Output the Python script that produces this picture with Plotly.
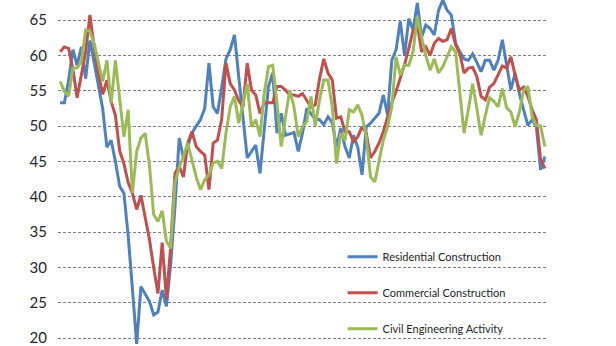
import plotly.graph_objects as go

residential = [53.3, 53.3, 56.5, 60.8, 58.6, 61.2, 56.7, 62.1, 59, 55.5,
               52.5, 47, 48, 45, 41.5, 40.5, 34.5, 27, 19.2, 27.3,
               26.3, 25.2, 23.3, 23.7, 26.8, 24.5, 30.5, 38.5, 48.3, 45.5,
               47.1, 49, 50, 50.9, 52.5, 58.9, 52.7, 51.8, 55.5, 59.5,
               60.8, 62.9, 57, 51, 45.5, 46.4, 47.3, 43.3, 49.9, 55.6,
               57.5, 49, 51.8, 48.7, 48.9, 49.1, 46.4, 49, 52.5, 51.8,
               51, 50.9, 50.2, 51.3, 50.5, 47, 49.7, 47.1, 45.5, 48.7,
               47, 43.1, 49.9, 50.4, 51.1, 51.8, 54.4, 51.6, 59.3, 60.8,
               64.8, 60, 65.2, 63.6, 67.4, 62.6, 64.3, 63.8, 62.9, 66.4,
               67.8, 66.4, 65.7, 61.7, 60.5, 59.5, 59.3, 60.2, 59, 57.7,
               59.3, 59.3, 57.9, 59.3, 62.2, 58.9, 55.1, 57.5, 54.6, 52.3,
               50.1, 50.9, 49.9, 43.8, 45.7]

commercial = [60.5, 61.2, 61, 58, 54, 57.5, 60.5, 65.7, 61.2, 57.5,
              54.5, 56.5, 53.5, 51.5, 46.5, 44.7, 42, 40.5, 38.2, 40.2,
              37, 34, 30, 26.3, 33.5, 25.5, 33, 43.3, 44.3, 42.8,
              47.6, 49.2, 47.1, 46.4, 45.9, 41, 47.6, 48, 51, 58.9,
              56, 55.1, 53.6, 52.7, 58.9, 55.1, 54.4, 51.8, 53.3, 53.3,
              53.3, 55.6, 55.6, 55.1, 54.4, 54.4, 54.2, 54.6, 53.7, 52.7,
              53, 56.7, 59.5, 57.5, 56.5, 51.1, 51.3, 49.2, 49.2, 47.8,
              48.5, 49.9, 49, 45.5, 46.4, 47.6, 49.2, 51.3, 53.3, 54.9,
              56.7, 58.7, 61, 63.5, 64.5, 60.5, 61.2, 60, 61.7, 62.4,
              62, 62.2, 63.8, 61.5, 60.2, 57.5, 58.2, 58.3, 57, 54.2,
              53.7, 55.5, 56, 57.2, 58.5, 58.2, 59.8, 57.2, 55.1, 55.5,
              54.2, 52.3, 50.9, 45.2, 44]

civil = [56.3, 54.9, 54.2, 58.2, 58.2, 59.1, 63.6, 63.4, 61.7, 58.9,
         56.3, 59.3, 53.2, 59.3, 54, 48.5, 52.3, 40.5, 46.4, 48.3,
         49, 44.5, 37.5, 36.5, 38, 33.7, 32.7, 42, 44.2, 45.7,
         47.6, 45.2, 42.8, 41, 42.4, 43.1, 44.8, 45, 44, 49,
         52.7, 54.2, 50.4, 53.2, 56, 49.9, 50.9, 48.5, 54.6, 58.4,
         58.6, 53.2, 47.1, 51.3, 55.1, 52.7, 48.5, 49.9, 50.6, 54.2,
         50, 53.7, 56.5, 56.5, 52.7, 44.7, 49, 48, 52.3, 52,
         53, 51.5, 48.5, 42.8, 42.1, 45, 48, 49.9, 52.7, 59.8,
         57.2, 58.6, 58.6, 60.5, 65.5, 62.6, 60, 57.9, 59.5, 57.5,
         58.4, 59.8, 61.2, 60.5, 55, 49, 52.3, 56, 52.5, 48.7,
         51.5, 54, 53.5, 52.7, 55.3, 52.6, 52, 49.9, 52, 55.1,
         55.6, 51.3, 50.1, 50, 47.1]

periods = list(range(len(residential)))
y_ticks = [20, 25, 30, 35, 40, 45, 50, 55, 60, 65]
names = ["Residential Construction", "Commercial Construction", "Civil Engineering Activity"]
colors = ["#4F81BD", "#C0504D", "#9BBB59"]

fig = go.Figure()
for i, (name, vals, col) in enumerate(zip(names, [residential, commercial, civil], colors)):
    fig.add_trace(go.Scatter(x=periods, y=vals, mode="lines", name=name,
                             legendgroup=f"g{i}",
                             line=dict(color=col, width=3)))

fig.update_layout(
    template="none",
    width=616, height=346,
    margin=dict(l=58, r=69, t=0, b=0, pad=0),
    paper_bgcolor="white", plot_bgcolor="white",
    font=dict(family="Lato", color="#262626"),
    showlegend=True,
    legend=dict(x=0.582, y=0.30, xanchor="left", yanchor="top",
                bgcolor="rgba(0,0,0,0)", font=dict(size=11, color="#262626"),
                tracegroupgap=17, itemwidth=30),
)
fig.update_xaxes(range=[-0.5, len(residential) - 0.5], showgrid=False,
                 showticklabels=False, zeroline=False, showline=False,
                 ticks="", automargin=False)
fig.update_yaxes(range=[18.89, 67.83], tickmode="array", tickvals=y_ticks,
                 showgrid=True, gridcolor="#7f7f7f", griddash="3px,2px",
                 gridwidth=1, zeroline=False, showline=False, ticks="",
                 automargin=False, ticklabeloverflow="allow",
                 tickfont=dict(size=15, color="#262626"), ticklabelstandoff=10)

fig.write_html("out.html")
